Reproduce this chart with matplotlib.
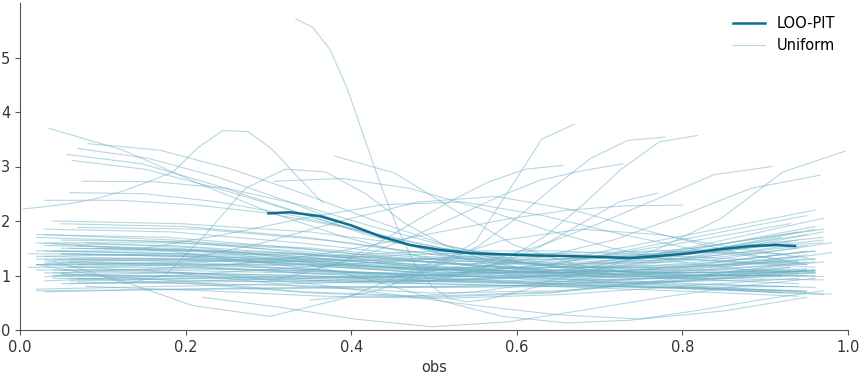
import numpy as np
import matplotlib
matplotlib.use("Agg")
import matplotlib.pyplot as plt
from matplotlib.colors import to_rgb, rgb_to_hsv, hsv_to_rgb

# LOO-PIT kde (x values, density)
loo_x = [0.300, 0.326, 0.362, 0.400, 0.435, 0.471, 0.507, 0.543, 0.580, 0.616,
         0.652, 0.700, 0.737, 0.773, 0.809, 0.845, 0.882, 0.912, 0.936]
loo_y = [2.14, 2.16, 2.09, 1.92, 1.72, 1.56, 1.47, 1.41, 1.39, 1.37,
         1.36, 1.34, 1.32, 1.36, 1.41, 1.48, 1.54, 1.56, 1.54]

# uniform reference kdes: start, end, densities read at equal steps between them
unif_x0 = [
    # main band
    0.02, 0.03, 0.01, 0.04, 0.02, 0.05, 0.03, 0.06, 0.02, 0.03,
    0.05, 0.04, 0.07, 0.03, 0.05, 0.02, 0.06, 0.01, 0.04, 0.05,
    0.03, 0.06, 0.02, 0.08, 0.04, 0.07, 0.03, 0.05, 0.02, 0.06,
    0.03, 0.05, 0.02, 0.09, 0.04, 0.05, 0.03, 0.07, 0.02, 0.04,
    0.04, 0.06, 0.03, 0.08, 0.02, 0.05, 0.03, 0.07, 0.04, 0.06,
    0.03, 0.05, 0.02, 0.04, 0.06, 0.03, 0.07, 0.02, 0.04, 0.08,
    0.03, 0.05,
    # outliers
    0.333, 0.004, 0.035, 0.082, 0.07, 0.057, 0.063, 0.075, 0.06, 0.03,
    0.307, 0.03, 0.02, 0.22, 0.35, 0.15, 0.35, 0.30, 0.42, 0.45,
    0.33, 0.40, 0.25, 0.35, 0.30, 0.40, 0.38, 0.20, 0.15,
]
unif_x1 = [
    0.96, 0.95, 0.97, 0.93, 0.94, 0.98, 0.92, 0.96, 0.90, 0.95,
    0.94, 0.97, 0.96, 0.93, 0.95, 0.97, 0.92, 0.96, 0.94, 0.98,
    0.96, 0.95, 0.97, 0.94, 0.93, 0.96, 0.98, 0.92, 0.95, 0.96,
    0.95, 0.97, 0.93, 0.96, 0.94, 0.95, 0.96, 0.94, 0.92, 0.97,
    0.95, 0.93, 0.96, 0.94, 0.97, 0.96, 0.95, 0.97, 0.93, 0.94,
    0.95, 0.96, 0.94, 0.97, 0.95, 0.93, 0.96, 0.97, 0.92, 0.95,
    0.96, 0.94,
    0.95, 0.366, 0.93, 0.95, 0.92, 0.96, 0.94, 0.95, 0.96, 0.92,
    0.96, 0.95, 0.96, 0.96, 0.97, 0.95, 0.67, 0.655, 0.779, 0.818,
    0.728, 0.77, 0.80, 0.908, 0.966, 0.996, 0.96, 0.95, 0.92,
]
unif_y = [
    [1.70, 1.62, 1.45, 1.25, 1.10, 1.05, 1.08],
    [1.55, 1.50, 1.35, 1.15, 0.95, 0.82, 0.70],
    [1.40, 1.38, 1.30, 1.20, 1.25, 1.45, 1.70],
    [1.30, 1.32, 1.28, 1.15, 1.05, 1.10, 1.25],
    [1.20, 1.22, 1.18, 1.10, 1.05, 1.12, 1.35],
    [1.10, 1.12, 1.08, 1.00, 0.98, 1.10, 1.42],
    [1.05, 1.05, 1.00, 0.95, 0.90, 0.85, 0.80],
    [0.90, 0.95, 0.98, 0.98, 1.00, 1.05, 1.10],
    [0.72, 0.74, 0.76, 0.78, 0.82, 0.88, 0.92],
    [0.70, 0.75, 0.78, 0.80, 0.82, 0.78, 0.72],
    [1.95, 1.90, 1.70, 1.40, 1.20, 1.25, 1.50],
    [2.00, 1.95, 1.80, 1.50, 1.30, 1.40, 1.65],
    [1.88, 1.85, 1.65, 1.35, 1.15, 1.20, 1.45],
    [1.60, 1.60, 1.50, 1.30, 1.20, 1.35, 1.62],
    [1.50, 1.48, 1.40, 1.25, 1.10, 1.05, 1.10],
    [1.35, 1.40, 1.38, 1.30, 1.30, 1.50, 1.85],
    [1.25, 1.30, 1.25, 1.10, 0.95, 0.82, 0.68],
    [1.15, 1.15, 1.10, 1.00, 0.95, 1.05, 1.25],
    [1.00, 1.05, 1.00, 0.90, 0.85, 0.90, 1.05],
    [0.85, 0.88, 0.90, 0.88, 0.82, 0.75, 0.66],
    [1.45, 1.40, 1.25, 1.10, 1.15, 1.45, 1.90],
    [1.30, 1.25, 1.10, 1.00, 1.10, 1.40, 1.75],
    [1.20, 1.18, 1.05, 0.95, 1.05, 1.35, 1.80],
    [1.60, 1.50, 1.25, 1.05, 1.05, 1.30, 1.65],
    [1.10, 1.05, 0.95, 0.90, 1.00, 1.25, 1.55],
    [0.95, 0.95, 0.90, 0.90, 1.00, 1.20, 1.45],
    [1.75, 1.65, 1.40, 1.15, 1.05, 1.25, 1.60],
    [1.40, 1.35, 1.20, 1.05, 1.05, 1.30, 1.70],
    [0.75, 0.80, 0.85, 0.90, 1.00, 1.15, 1.30],
    [1.50, 1.45, 1.30, 1.15, 1.15, 1.40, 1.85],
    [1.35, 1.30, 1.20, 1.05, 0.90, 0.78, 0.70],
    [1.25, 1.22, 1.10, 0.95, 0.85, 0.75, 0.65],
    [1.10, 1.10, 1.05, 0.95, 0.85, 0.78, 0.72],
    [1.50, 1.45, 1.30, 1.10, 0.95, 0.85, 0.78],
    [0.95, 0.92, 0.88, 0.85, 0.80, 0.72, 0.62],
    [1.05, 1.15, 1.30, 1.40, 1.40, 1.30, 1.20],
    [0.90, 1.00, 1.15, 1.30, 1.35, 1.30, 1.15],
    [1.20, 1.25, 1.35, 1.45, 1.45, 1.35, 1.25],
    [1.30, 1.30, 1.25, 1.30, 1.40, 1.45, 1.40],
    [1.45, 1.40, 1.30, 1.25, 1.30, 1.45, 1.60],
    [1.05, 0.90, 0.70, 0.62, 0.70, 0.95, 1.25],
    [0.95, 0.85, 0.68, 0.60, 0.68, 0.90, 1.15],
    [1.20, 1.05, 0.80, 0.68, 0.72, 0.90, 1.10],
    [0.80, 0.72, 0.62, 0.58, 0.65, 0.80, 0.95],
    [1.60, 1.45, 1.15, 0.90, 0.85, 1.00, 1.25],
    [1.40, 1.35, 1.20, 1.10, 1.30, 1.75, 2.20],
    [1.25, 1.20, 1.05, 1.00, 1.20, 1.65, 2.10],
    [1.55, 1.45, 1.20, 1.00, 1.10, 1.55, 2.05],
    [1.00, 0.98, 0.95, 1.00, 1.20, 1.55, 1.95],
    [0.85, 0.90, 0.95, 1.00, 1.15, 1.45, 1.80],
    [1.85, 1.80, 1.60, 1.35, 1.20, 1.30, 1.55],
    [1.65, 1.62, 1.50, 1.30, 1.15, 1.15, 1.30],
    [1.45, 1.45, 1.40, 1.25, 1.10, 0.95, 0.85],
    [1.28, 1.28, 1.22, 1.12, 1.05, 1.00, 0.98],
    [1.15, 1.20, 1.20, 1.12, 1.05, 1.15, 1.45],
    [0.98, 1.00, 0.98, 0.92, 0.88, 0.95, 1.15],
    [0.88, 0.85, 0.80, 0.78, 0.80, 0.90, 1.05],
    [1.75, 1.70, 1.50, 1.25, 1.05, 0.95, 0.92],
    [1.58, 1.55, 1.40, 1.20, 1.05, 1.05, 1.20],
    [1.38, 1.35, 1.25, 1.10, 1.00, 1.10, 1.38],
    [1.22, 1.20, 1.12, 1.00, 0.92, 0.95, 1.10],
    [1.02, 0.98, 0.92, 0.85, 0.80, 0.78, 0.80],
    # outliers
    [5.71, 5.55, 5.15, 4.45, 3.55, 2.65, 1.85, 1.20, 0.80, 0.58, 0.52, 0.55,
     0.62, 0.70, 0.78, 0.85, 0.90, 0.94, 0.97, 0.99, 1.00, 1.00, 1.00, 1.00,
     1.00, 1.00, 1.00, 1.00, 1.00, 1.00, 1.00],
    [2.22, 2.27, 2.33, 2.42, 2.55, 2.72, 2.90, 3.35, 3.66, 3.64, 3.30, 2.80, 2.33],
    [3.70, 3.30, 2.70, 2.15, 1.70, 1.35, 1.10, 0.98, 0.95, 1.00, 1.08],
    [3.42, 3.30, 2.95, 2.50, 2.00, 1.55, 1.25, 1.05, 1.00, 1.02, 1.08],
    [3.33, 3.15, 2.80, 2.35, 1.85, 1.45, 1.15, 1.00, 0.95, 0.95, 0.98],
    [3.22, 3.05, 2.65, 2.20, 1.75, 1.40, 1.15, 1.00, 0.98, 1.00, 1.05],
    [3.11, 2.95, 2.60, 2.20, 1.80, 1.45, 1.25, 1.15, 1.15, 1.20, 1.25],
    [2.73, 2.72, 2.60, 2.30, 1.90, 1.55, 1.30, 1.15, 1.10, 1.10, 1.12],
    [2.52, 2.50, 2.35, 2.10, 1.80, 1.50, 1.25, 1.10, 1.05, 1.05, 1.08],
    [2.38, 2.38, 2.30, 2.15, 1.90, 1.60, 1.35, 1.15, 1.05, 1.00, 1.00],
    [2.73, 2.78, 2.60, 2.25, 1.85, 1.50, 1.25, 1.10, 1.05],
    [1.30, 1.10, 0.85, 1.00, 1.75, 2.60, 2.95, 2.90, 2.50, 1.95,
     1.55, 1.28, 1.12, 1.02, 0.98, 0.98, 1.00, 1.02, 1.05, 1.08],
    [1.20, 0.95, 0.45, 0.25, 0.60, 1.20, 1.65, 1.85, 1.75, 1.50, 1.30],
    [0.60, 0.42, 0.20, 0.06, 0.15, 0.37, 0.60, 0.80, 0.95],
    [1.20, 0.90, 0.55, 0.25, 0.13, 0.18, 0.35, 0.55, 0.72],
    [1.10, 1.00, 0.85, 0.65, 0.45, 0.28, 0.20, 0.35, 0.60],
    [0.55, 0.60, 0.72, 0.95, 1.25, 1.62, 2.55, 3.50, 3.78],
    [0.90, 1.05, 1.25, 1.60, 2.00, 2.38, 2.72, 2.95, 3.02],
    [0.90, 1.00, 1.20, 1.55, 2.05, 2.62, 3.15, 3.48, 3.54],
    [0.85, 0.90, 1.05, 1.30, 1.72, 2.30, 2.95, 3.45, 3.57],
    [1.05, 1.20, 1.45, 1.75, 2.10, 2.45, 2.75, 2.92, 3.05],
    [0.90, 0.90, 0.95, 1.05, 1.25, 1.55, 1.95, 2.35, 2.51],
    [1.20, 1.30, 1.45, 1.65, 1.85, 2.05, 2.20, 2.28, 2.29],
    [0.90, 0.95, 1.05, 1.25, 1.55, 1.95, 2.40, 2.85, 3.00],
    [1.10, 1.05, 1.05, 1.15, 1.35, 1.65, 2.10, 2.60, 2.84],
    [0.60, 0.62, 0.70, 0.85, 1.10, 1.50, 2.05, 2.90, 3.28],
    [3.19, 2.88, 2.20, 1.55, 1.20, 1.05, 1.00, 1.00, 1.00],
    [1.30, 1.60, 2.00, 2.35, 2.45, 2.20, 1.80, 1.45, 1.20],
    [1.50, 1.75, 2.05, 2.30, 2.35, 2.10, 1.75, 1.45, 1.30],
]

loo_color = "#0e6e8c"
hsv = rgb_to_hsv(to_rgb(loo_color))
hsv[1] /= 2
hsv[2] += (1 - hsv[2]) / 2
unif_color = hsv_to_rgb(hsv)

fig = plt.figure(figsize=(8.62, 3.75), dpi=100)
ax = fig.add_axes([0.0232, 0.12, 0.9606, 0.872])

for i, (x0, x1, ys) in enumerate(zip(unif_x0, unif_x1, unif_y)):
    xs = np.linspace(x0, x1, len(ys))
    ax.plot(xs, ys, color=unif_color, alpha=0.5, lw=0.8,
            label="Uniform" if i == 0 else None, zorder=1)

ax.plot(loo_x, loo_y, color=loo_color, lw=1.8, label="LOO-PIT", zorder=3)

ax.set_xlim(0, 1)
ax.set_ylim(0, 6.0)
ax.set_xticks([0, 0.2, 0.4, 0.6, 0.8, 1.0])
ax.set_yticks([0, 1, 2, 3, 4, 5])
ax.set_xlabel("obs", fontsize=10.5, color="#333333")
for s in ["top", "right"]:
    ax.spines[s].set_visible(False)
for s in ["left", "bottom"]:
    ax.spines[s].set_color("#555555")
ax.tick_params(labelsize=10.5, colors="#555555", labelcolor="#333333")

h, l = ax.get_legend_handles_labels()
ax.legend(h[::-1], l[::-1], loc="upper right", frameon=False, fontsize=10.5,
          handlelength=2.2)

fig.savefig("out.png", dpi=100)
